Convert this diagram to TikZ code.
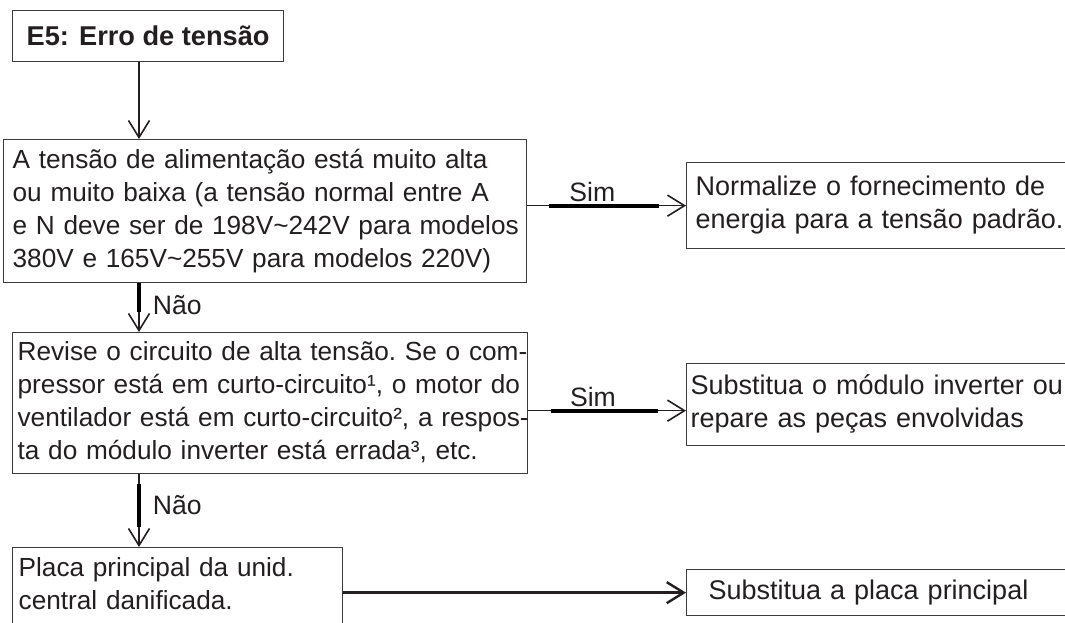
\documentclass[tikz,border=0pt]{standalone}
\usepackage{fontspec}
\setmainfont{Liberation Sans}
\usepackage{tikz}
\usetikzlibrary{arrows.meta}
\definecolor{ink}{HTML}{231F20}
\definecolor{edge}{HTML}{3C3C3C}
% lines that never wrap
\newcommand{\boxlines}[1]{\begin{tabular}{@{}l@{}}#1\end{tabular}}

\begin{document}
\begin{tikzpicture}[
    x=1pt, y=-1pt,
    every node/.style={text=ink},
    box/.style={draw=edge, line width=1.3pt, anchor=north west, inner ysep=0pt,
        font=\frenchspacing\fontsize{26.2}{33}\selectfont, align=left},
    ansbox/.style={box, font=\frenchspacing\fontsize{27}{33}\selectfont},
    arr/.style={-{Straight Barb[length=17pt, width=21pt]}, line width=1.6pt, draw=ink},
    heavy/.style={line width=4.2pt, draw=black},
    lbl/.style={font=\fontsize{26.6}{33}\selectfont, inner sep=3pt}
]
\useasboundingbox (0,0) rectangle (1065,623);
\clip (0,0) rectangle (1065,623);

% left column
\node[box, align=center, font=\bfseries\fontsize{27.2}{33}\selectfont,
      minimum width=271pt, minimum height=51pt] (e5) at (12,10) {E5: Erro de tensão};
\node[box, text width=505pt, inner xsep=9pt, minimum height=143pt] (q1) at (3,139)
    {\boxlines{A tensão de alimentação está muito alta\\
     ou muito baixa (a tensão normal entre A\\
     e N deve ser de 198V\textasciitilde 242V para modelos\\
     380V e 165V\textasciitilde 255V para modelos 220V)}};
\node[box, text width=505pt, inner xsep=5pt, minimum height=141pt] (q2) at (12,332)
    {\boxlines{Revise o circuito de alta tensão. Se o com-\\
     pressor está em curto-circuito¹, o motor do\\
     ventilador está em curto-circuito², a respos-\\
     ta do módulo inverter está errada³, etc.}};
\node[box, text width=318pt, inner xsep=6pt, minimum height=78pt] (q3) at (12,547)
    {\boxlines{Placa principal da unid.\\
     central danificada.}};

% right column
\node[ansbox, text width=380pt, inner xsep=9pt, minimum height=86pt] (a1) at (686,162)
    {\boxlines{Normalize o fornecimento de\\
     energia para a tensão padrão.}};
\node[ansbox, text width=390pt, inner xsep=4pt, minimum height=82pt] (a2) at (686,363)
    {\boxlines{Substitua o módulo inverter ou\\
     repare as peças envolvidas}};
\node[ansbox, text width=360pt, inner xsep=22pt, minimum height=46pt] (a3) at (686,569)
    {Substitua a placa principal};

\coordinate (spine) at (139,0);

% connectors
\draw[arr] (e5.south -| spine) -- (q1.north -| spine);
\draw[arr] (q1.south -| spine) -- node[lbl, right=10pt, pos=0.45]{Não} (q2.north -| spine);
\draw[heavy, shorten >=20pt] (q1.south -| spine) -- (q2.north -| spine);
\draw[arr] (q2.south -| spine) -- node[lbl, right=10pt, pos=0.43]{Não} (q3.north -| spine);
\draw[heavy, shorten <=10pt, shorten >=20pt] (q2.south -| spine) -- (q3.north -| spine);

\draw[arr] (q1.east |- a1.west) -- node[lbl, above, pos=0.41]{Sim} (a1.west);
\draw[heavy, shorten <=22pt, shorten >=27pt] (q1.east |- a1.west) -- (a1.west);
\draw[arr] ([yshift=-6pt]q2.east |- a2.west) -- node[lbl, above, pos=0.41]{Sim} ([yshift=-6pt]a2.west);
\draw[heavy, shorten <=23pt, shorten >=28pt] ([yshift=-6pt]q2.east |- a2.west) -- ([yshift=-6pt]a2.west);
\draw[arr, line width=2.4pt] (q3.east |- a3.west) -- (a3.west);
\end{tikzpicture}
\end{document}
